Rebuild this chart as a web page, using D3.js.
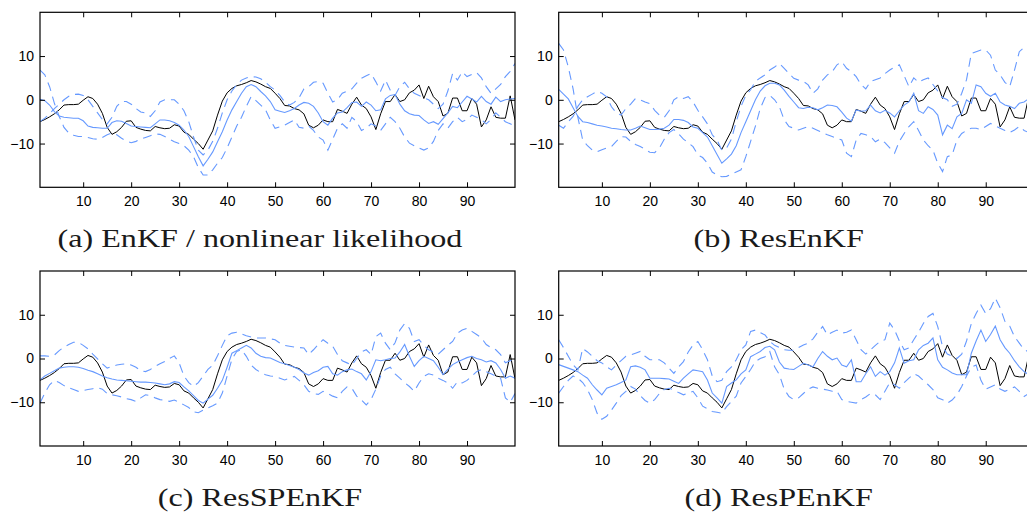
<!doctype html>
<html>

<head>
    <meta charset="utf-8">
    <title>ensemble filters</title>
    <script src="https://d3js.org/d3.v7.min.js"></script>
    <style>
      body { margin: 0; background: #fff; }
    </style>
</head>

<body>

    <script>

    // time steps and the true state (same in all four panels)
    var steps = d3.range(1, 101);
    var truth = [
      -5.0,-4.5,-3.9,-3.2,-2.3,-1.2,-1.1,-1.1,-1.0,-0.1,
      0.7,0.3,-1.0,-3.1,-6.3,-7.9,-7.3,-6.3,-4.9,-4.8,
      -6.3,-6.7,-7.0,-7.1,-6.1,-6.4,-6.6,-6.5,-5.7,-6.0,
      -7.4,-7.9,-9.0,-10.0,-11.3,-9.2,-7.1,-3.5,-0.3,1.6,
      2.6,3.2,3.5,3.9,4.4,4.1,3.6,3.0,2.6,1.5,
      0.3,-1.3,-1.4,-2.0,-2.3,-3.2,-5.8,-6.4,-5.8,-4.6,
      -5.0,-5.0,-2.2,-2.6,-3.1,-1.0,0.6,-1.2,-2.0,-3.9,
      -6.8,-3.2,-0.4,-0.4,1.2,-0.4,0.0,1.6,2.2,3.4,
      0.3,3.1,0.7,-0.4,-3.7,-3.1,0.4,0.4,-2.5,-2.5,
      0.3,-1.0,-6.2,-4.6,-1.6,-4.0,-4.2,-4.2,0.9,-4.6
    ];

    // (a) EnKF / nonlinear likelihood
    var meanA = [
      0.1,-0.2,-1.2,-2.7,-3.7,-4.0,-4.1,-4.2,-4.2,-4.8,
      -6.0,-6.3,-6.4,-6.5,-6.5,-5.2,-4.8,-4.9,-5.4,-6.0,
      -6.1,-6.2,-6.3,-6.4,-5.5,-4.6,-4.6,-4.8,-5.2,-5.8,
      -6.9,-8.4,-10.7,-13.0,-15.1,-13.6,-11.9,-9.6,-7.3,-4.6,
      -2.3,-0.4,1.5,3.0,3.5,3.0,1.9,0.9,-0.4,-2.3,
      -2.6,-2.9,-2.5,-2.0,-1.2,-0.6,-0.8,-1.5,-3.0,-5.0,
      -5.8,-4.2,-3.0,-2.8,-1.8,-0.6,-0.5,-1.5,-0.5,-1.2,
      -2.5,-2.3,0.2,1.0,1.2,-1.0,-2.5,-3.2,-3.5,-3.6,
      -4.6,-5.4,-5.0,-5.6,-4.3,-3.0,-1.5,-1.8,-0.5,0.8,
      0.2,-0.5,0.8,-0.4,-1.0,0.6,-0.4,0.0,0.2,0.3
    ];
    var dash1A = [
      6.8,5.7,3.0,-0.8,-3.8,-6.3,-7.6,-8.1,-8.4,-8.4,
      -8.6,-8.9,-9.0,-8.6,-8.0,-7.6,-8.0,-8.8,-9.4,-9.8,
      -9.5,-9.0,-8.6,-8.2,-7.8,-7.9,-8.4,-9.0,-9.6,-10.0,
      -10.5,-11.5,-13.0,-15.5,-17.2,-17.2,-16.0,-14.5,-13.2,-11.0,
      -8.5,-6.0,-4.0,-1.5,0.7,-0.2,-1.2,-2.3,-4.6,-6.5,
      -6.2,-5.8,-5.2,-4.6,-6.3,-6.5,-6.0,-7.0,-8.5,-9.2,
      -11.5,-9.0,-6.5,-5.5,-6.5,-4.0,-5.0,-7.0,-6.5,-5.5,
      -6.0,-7.0,-5.5,-4.0,-5.0,-6.5,-8.5,-9.9,-10.5,-11.0,
      -11.5,-11.0,-9.5,-7.0,-5.5,-6.5,-5.0,-4.0,-5.0,-4.5,
      -3.5,-4.0,-4.5,-5.5,-4.5,-3.0,-4.0,-5.0,-5.5,-6.0
    ];
    var dash2A = [
      -5.0,-4.2,-3.2,-2.0,-1.0,0.0,0.8,1.2,1.3,1.0,
      0.0,-1.5,-3.0,-4.5,-5.5,-4.0,-1.5,-0.4,-0.4,-1.0,
      -2.0,-2.8,-3.0,-3.8,-2.5,-0.5,0.0,0.0,0.0,-1.0,
      -2.5,-5.0,-8.5,-11.5,-12.6,-11.5,-9.5,-6.5,-3.0,0.0,
      2.0,3.5,4.5,5.0,5.3,5.2,4.8,4.0,3.0,2.2,
      1.0,-0.5,-1.2,-0.6,0.5,2.5,3.0,4.0,4.2,3.8,
      1.5,-0.5,0.0,1.5,2.0,2.5,3.8,4.9,5.5,6.0,
      4.1,2.0,4.5,2.2,1.0,3.0,4.0,2.5,1.5,1.0,
      0.5,0.0,-1.0,-2.0,-1.0,2.0,6.0,4.5,6.4,5.3,
      5.8,6.2,5.0,3.0,1.5,2.5,3.5,5.3,6.5,8.3
    ];

    // (b) ResEnKF
    var meanB = [
      2.4,1.3,0.2,-1.8,-3.8,-5.0,-5.2,-5.5,-5.8,-6.0,
      -6.2,-6.5,-6.6,-6.8,-6.9,-6.9,-6.5,-6.0,-6.4,-6.8,
      -6.8,-6.7,-6.5,-5.8,-4.5,-4.5,-4.7,-5.2,-6.2,-6.5,
      -7.5,-8.5,-10.5,-12.5,-14.5,-13.5,-12.4,-10.5,-7.5,-5.0,
      -2.5,0.0,2.0,3.2,3.8,3.8,3.4,2.2,0.8,-0.5,
      -1.8,-2.0,-1.7,-1.8,-2.3,-1.8,-1.2,-1.3,-1.6,-2.8,
      -4.2,-4.9,-2.3,-2.6,-2.5,-1.2,-2.5,-3.0,-2.4,-3.0,
      -3.9,-2.5,-1.2,-0.5,1.5,-2.5,-3.1,-1.6,-2.2,-3.5,
      -8.0,-5.8,-6.6,-3.9,-3.1,0.0,-0.8,3.4,3.0,1.5,
      0.8,1.5,-0.5,-1.2,-1.5,-2.0,-0.8,-0.5,0.3,0.8
    ];
    var dash1B = [
      12.9,11.4,7.5,2.5,-4.0,-9.2,-10.5,-11.5,-11.9,-11.4,
      -11.0,-10.7,-9.5,-8.4,-8.5,-9.5,-10.2,-10.7,-11.3,-12.0,
      -12.1,-11.0,-9.0,-7.5,-6.8,-7.8,-9.0,-9.8,-10.7,-12.6,
      -13.2,-14.5,-16.5,-17.2,-17.6,-17.5,-17.0,-16.5,-16.0,-13.0,
      -9.5,-6.0,-2.0,0.5,1.0,0.0,-1.6,-4.6,-6.1,-6.5,
      -6.9,-6.5,-6.1,-6.5,-7.0,-7.5,-8.0,-8.4,-8.8,-9.2,
      -12.2,-13.0,-9.2,-7.7,-8.0,-8.4,-9.6,-9.0,-9.8,-11.0,
      -12.2,-9.5,-7.7,-6.1,-5.0,-7.0,-9.2,-10.5,-11.5,-14.5,
      -16.4,-13.0,-12.6,-9.2,-7.7,-7.0,-6.5,-6.5,-6.8,-6.1,
      -5.4,-6.0,-6.5,-7.0,-7.5,-6.9,-6.1,-7.0,-7.5,-8.0
    ];
    var dash2B = [
      -5.8,-6.5,-5.0,-3.8,-1.5,0.0,0.7,1.3,1.9,1.5,
      0.7,-1.6,-3.0,-3.5,-2.0,-1.0,0.3,0.0,-0.5,-0.9,
      -2.4,-3.5,-4.0,-2.5,0.0,0.7,0.3,0.7,-0.5,-2.4,
      -3.9,-5.5,-8.0,-9.2,-11.5,-11.0,-9.0,-5.0,-1.5,1.0,
      2.3,4.2,5.0,5.7,6.8,7.5,8.3,7.2,6.0,4.9,
      4.5,4.2,3.4,1.5,2.5,4.5,5.7,6.4,8.0,8.7,
      7.2,6.4,5.3,3.5,2.5,4.2,4.6,5.0,6.0,6.8,
      7.5,8.0,5.5,3.0,5.0,4.0,4.6,5.0,3.5,2.0,
      0.5,0.0,-1.5,-1.0,1.5,4.6,10.6,11.0,11.4,11.4,
      10.2,6.8,5.7,4.0,3.0,6.8,11.0,12.0,11.5,10.0
    ];

    // (c) ResSPEnKF
    var meanC = [
      -4.9,-4.0,-3.4,-2.8,-2.2,-2.0,-1.9,-1.9,-2.0,-2.3,
      -2.7,-3.0,-3.5,-4.0,-4.4,-4.7,-4.9,-5.0,-5.1,-5.2,
      -5.3,-5.4,-5.4,-5.5,-5.6,-5.8,-6.0,-5.8,-5.3,-5.5,
      -6.5,-7.4,-8.5,-9.6,-10.2,-9.3,-8.4,-6.8,-5.0,-2.0,
      1.2,1.8,2.4,3.0,2.4,1.2,0.5,0.2,0.1,-0.4,
      -0.9,-1.2,-1.6,-2.0,-2.5,-3.3,-3.8,-3.2,-2.8,-2.0,
      -1.8,-3.5,-3.8,-3.0,-2.6,-2.4,-3.0,-3.5,-4.9,-3.0,
      -0.3,-0.5,-0.3,0.0,0.1,1.5,3.2,0.5,-1.8,-0.5,
      0.5,0.0,-0.5,-2.0,-3.7,-2.5,-1.4,-0.8,-0.3,0.2,
      0.5,0.0,-0.3,-0.8,-0.5,-1.0,-2.5,-4.5,-4.0,-4.5
    ];
    var dash1C = [
      0.6,0.6,0.5,0.8,1.8,2.6,3.2,3.7,3.7,3.0,
      2.2,1.0,-0.1,-1.2,-2.2,-1.8,-1.5,-1.3,-1.2,-1.5,
      -2.0,-2.8,-3.0,-2.5,-1.8,-1.2,-0.7,0.0,0.6,-1.0,
      -4.0,-5.5,-6.4,-5.5,-4.0,-2.5,-1.5,0.6,3.0,5.2,
      5.8,6.0,5.6,5.2,4.9,4.7,4.7,4.7,4.5,4.3,
      3.5,3.0,2.8,2.6,2.5,2.4,0.9,2.0,3.2,4.3,
      3.5,2.8,0.9,-0.5,-1.0,-1.5,0.0,1.5,2.0,0.9,
      5.0,5.8,3.5,2.0,3.6,6.5,8.0,6.9,3.9,4.3,
      3.0,2.0,1.5,1.0,2.0,3.0,3.9,5.8,6.5,6.9,
      6.2,5.5,4.7,3.2,2.5,2.0,0.9,-1.0,-0.5,-0.2
    ];
    var dash2C = [
      -10.2,-7.9,-6.0,-5.0,-5.5,-6.2,-6.7,-7.1,-7.5,-7.3,
      -7.1,-6.9,-6.7,-7.0,-8.0,-8.3,-8.5,-8.8,-9.2,-9.4,
      -9.8,-9.0,-8.3,-8.5,-9.0,-9.4,-9.6,-9.8,-9.5,-10.0,
      -10.6,-11.2,-12.2,-12.4,-11.8,-11.3,-10.8,-10.2,-7.9,-4.0,
      -0.2,1.6,2.0,0.5,-1.5,-2.5,-3.2,-3.7,-4.0,-4.1,
      -4.5,-4.9,-4.5,-4.1,-5.0,-6.0,-7.5,-8.0,-8.2,-7.5,
      -8.0,-8.6,-9.0,-7.5,-6.5,-6.8,-8.6,-9.5,-10.6,-9.4,
      -7.0,-4.0,-2.5,-2.0,-3.5,-4.5,-5.5,-6.4,-7.5,-5.6,
      -4.1,-3.5,-3.8,-4.5,-5.0,-5.6,-6.8,-5.3,-5.6,-5.0,
      -4.0,-3.0,-2.5,-3.0,-3.5,-4.0,-4.5,-9.0,-10.0,-8.0
    ];

    // (d) ResPEnKF
    var meanD = [
      -1.4,-1.8,-2.2,-2.6,-3.0,-3.8,-4.5,-6.0,-7.2,-8.3,
      -6.8,-6.4,-6.0,-5.5,-4.9,-1.9,-1.7,-2.0,-2.6,-4.5,
      -4.5,-4.5,-4.6,-4.7,-5.2,-5.7,-4.5,-3.5,-2.6,-2.8,
      -3.0,-4.9,-7.9,-9.0,-10.2,-6.4,-5.6,-4.9,-3.5,-2.6,
      0.4,1.0,1.6,2.5,2.8,2.0,-0.8,-2.2,-2.4,-2.5,
      -1.8,-1.1,-1.5,-1.9,0.0,1.6,0.5,-0.3,0.1,-1.5,
      -1.9,-0.3,-5.3,-5.3,-3.5,-1.9,-4.1,-3.0,-3.8,-3.0,
      -1.0,2.4,-1.1,-0.5,-0.3,2.0,3.0,3.5,4.7,-0.3,
      -2.0,-2.6,-3.3,-3.7,-3.7,-3.7,1.2,4.0,6.5,3.9,
      5.5,7.4,4.3,2.5,1.2,-0.5,-1.9,-3.0,-3.7,-3.5
    ];
    var dash1D = [
      4.3,2.5,0.5,-1.4,-2.6,2.3,1.5,0.5,-0.5,-1.0,
      -1.9,-2.6,-1.5,-0.5,0.5,0.8,1.2,1.6,0.5,-0.3,
      -0.3,-0.3,-1.0,-2.2,-3.4,-1.9,-0.7,1.5,3.1,3.9,
      2.0,-0.3,-4.0,-5.3,-5.0,-3.0,-1.9,-0.3,2.0,3.1,
      6.2,6.5,5.9,5.4,3.9,3.0,2.5,2.0,1.9,1.9,
      2.5,3.1,3.5,4.5,6.0,7.3,5.4,6.0,6.5,5.8,
      6.0,6.5,4.3,2.0,1.0,2.0,3.0,3.9,4.3,8.1,
      6.5,4.0,2.0,2.4,4.3,6.0,8.0,9.6,10.3,7.3,
      2.7,1.0,0.5,0.0,1.0,4.0,8.0,10.3,12.2,10.3,
      11.4,13.8,11.6,8.5,7.4,5.0,3.5,2.0,1.5,3.0
    ];
    var dash2D = [
      -7.9,-6.4,-5.0,-4.0,-4.5,-5.5,-7.1,-9.4,-12.5,-13.9,
      -13.2,-11.8,-10.2,-8.5,-7.5,-6.4,-7.0,-8.5,-9.6,-10.2,
      -9.4,-8.0,-7.1,-6.8,-7.2,-7.8,-8.3,-7.9,-7.5,-9.0,
      -10.9,-11.5,-12.1,-12.3,-12.5,-11.0,-9.8,-8.6,-5.6,-4.1,
      -2.5,-0.7,0.0,0.4,1.6,-1.9,-3.7,-7.0,-8.7,-9.4,
      -9.0,-8.0,-7.0,-6.5,-6.8,-7.0,-7.2,-7.5,-7.5,-9.4,
      -9.8,-10.0,-10.2,-9.4,-8.8,-8.0,-8.3,-9.4,-7.5,-5.5,
      -6.0,-6.8,-5.5,-4.5,-3.5,-4.0,-5.0,-6.0,-7.1,-9.0,
      -9.4,-10.2,-9.5,-8.3,-6.4,-4.0,-2.0,-1.5,-5.0,-7.0,
      -6.5,-6.0,-7.0,-7.5,-7.0,-6.5,-7.5,-8.7,-8.0,-7.0
    ];

    var xTicks = [10, 20, 30, 40, 50, 60, 70, 80, 90];
    var yTicks = [-10, 0, 10];
    var captions = ['(a) EnKF / nonlinear likelihood', '(b) ResEnKF', '(c) ResSPEnKF', '(d) ResPEnKF'];

    // canvas and panel geometry
    var canvasWidth = 1027;
    var canvasHeight = 516;
    var plotWidth = 475;
    var plotHeight = 175;
    var panelPos = [[40, 12.3], [558.7, 12.3], [40, 271], [558.7, 271]];
    var blue = '#6699ff';
    var captionStretch = 1.235;   // computer modern is wider than times

    var panels = [
      {mean: meanA, d1: dash1A, d2: dash2A},
      {mean: meanB, d1: dash1B, d2: dash2B},
      {mean: meanC, d1: dash1C, d2: dash2C},
      {mean: meanD, d1: dash1D, d2: dash2D}
    ];

    var svg = d3.select('body')
                .append('svg')
                .attr('width', canvasWidth)
                .attr('height', canvasHeight)
                .style('display', 'block')
                .style('background', '#fff');

    var xScale = d3.scaleLinear()
                   .domain([1, 100])
                   .range([0, plotWidth]);

    var yScale = d3.scaleLinear()
                   .domain([-20, 20])
                   .range([plotHeight, 0]);

    var line = d3.line()
                 .x(function (d, i) { return xScale(steps[i]); })
                 .y(function (d) { return yScale(d); });

    svg.append('defs')
       .append('clipPath')
       .attr('id', 'plotclip')
       .append('rect')
       .attr('width', plotWidth)
       .attr('height', plotHeight);

    panels.forEach(function (p, k) {
      var g = svg.append('g')
                 .attr('transform', 'translate(' + panelPos[k][0] + ',' + panelPos[k][1] + ')');

      var lines = g.append('g').attr('clip-path', 'url(#plotclip)');

      // truth in black, ensemble mean solid blue, spread dashed blue
      lines.append('path')
           .attr('d', line(truth))
           .attr('fill', 'none')
           .attr('stroke', '#000')
           .attr('stroke-width', 1);

      [p.d1, p.d2].forEach(function (s) {
        lines.append('path')
             .attr('d', line(s))
             .attr('fill', 'none')
             .attr('stroke', blue)
             .attr('stroke-width', 1.1)
             .attr('stroke-dasharray', '9,6');
      });

      lines.append('path')
           .attr('d', line(p.mean))
           .attr('fill', 'none')
           .attr('stroke', blue)
           .attr('stroke-width', 1.1);

      // axes with inward ticks on all four sides
      var bottom = g.append('g')
                    .attr('transform', 'translate(0,' + plotHeight + ')')
                    .call(d3.axisBottom(xScale).tickValues(xTicks).tickSizeInner(-5).tickSizeOuter(0).tickPadding(9));
      var top = g.append('g')
                 .call(d3.axisTop(xScale).tickValues(xTicks).tickSizeInner(-5).tickSizeOuter(0).tickFormat(''));
      var left = g.append('g')
                  .call(d3.axisLeft(yScale).tickValues(yTicks).tickSizeInner(-5).tickSizeOuter(0).tickPadding(6));
      var right = g.append('g')
                   .attr('transform', 'translate(' + plotWidth + ',0)')
                   .call(d3.axisRight(yScale).tickValues(yTicks).tickSizeInner(-5).tickSizeOuter(0).tickFormat(''));

      [bottom, top, left, right].forEach(function (a) {
        a.select('.domain').remove();
        a.selectAll('text')
         .attr('font-family', '"Liberation Sans", Arial, sans-serif')
         .attr('font-size', 14)
         .attr('fill', '#000');
      });

      g.append('rect')
       .attr('width', plotWidth)
       .attr('height', plotHeight)
       .attr('fill', 'none')
       .attr('stroke', '#000')
       .attr('stroke-width', 1.2);

      // caption under the panel, stretched to the reference width
      var cap = g.append('text')
                 .attr('x', 220)
                 .attr('y', plotHeight + 60)
                 .attr('text-anchor', 'middle')
                 .attr('font-family', '"Liberation Serif", "DejaVu Serif", serif')
                 .attr('font-size', 26)
                 .attr('fill', '#1a1a1a')
                 .text(captions[k]);
      var w = cap.node().getComputedTextLength();
      cap.attr('textLength', w * captionStretch)
         .attr('lengthAdjust', 'spacingAndGlyphs');
    });

    </script>

</body>

</html>
